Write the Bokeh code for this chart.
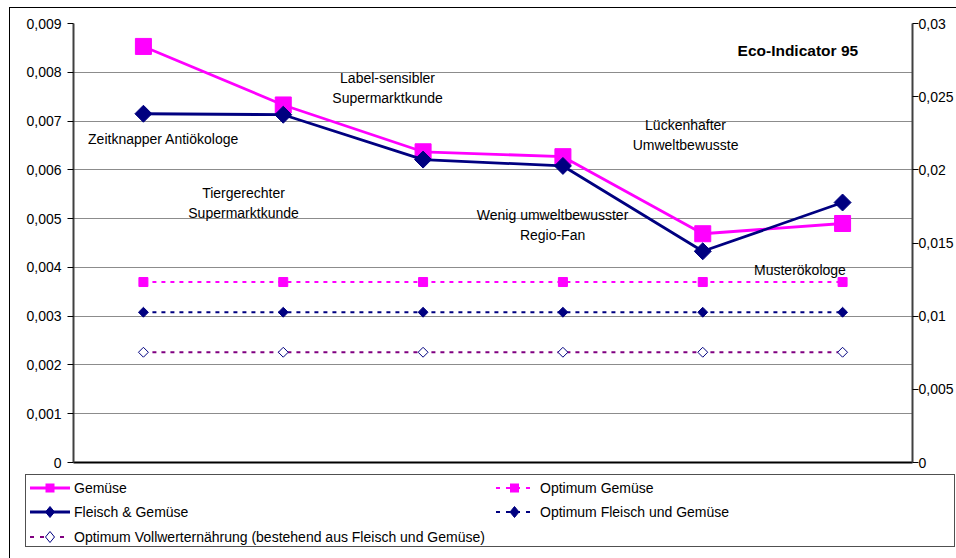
import math
from bokeh.plotting import figure
from bokeh.layouts import column
from bokeh.models import (Range1d, LinearAxis, FixedTicker, CustomJSTickFormatter,
                          ColumnDataSource, Div)
from bokeh.core.properties import value
from bokeh.embed import file_html
from bokeh.resources import INLINE

# ---- data ----
x_pos = [1, 2, 3, 4, 5, 6]
gemuese = [0.00853, 0.00733, 0.00637, 0.00627, 0.00469, 0.00490]
fleisch = [0.00715, 0.00713, 0.00621, 0.00608, 0.00433, 0.00533]
opt_gemuese = [0.00370, 0.00370, 0.00370, 0.00370, 0.00370, 0.00370]
opt_fleisch = [0.00308, 0.00308, 0.00308, 0.00308, 0.00308, 0.00308]
opt_vollwert = [0.00226, 0.00226, 0.00226, 0.00226, 0.00226, 0.00226]

left_ticks = [0, 0.001, 0.002, 0.003, 0.004, 0.005, 0.006, 0.007, 0.008, 0.009]
right_ticks = [0, 0.005, 0.01, 0.015, 0.02, 0.025, 0.03]

seg_labels = ["Zeitknapper Antiökologe", "Tiergerechter\nSupermarktkunde",
              "Label-sensibler\nSupermarktkunde", "Wenig umweltbewusster\nRegio-Fan",
              "Lückenhafter\nUmweltbewusste", "Musterökologe"]
seg_x = [1.144, 1.716, 2.746, 3.926, 4.877, 5.695]
seg_y = [0.00664, 0.00533, 0.00767, 0.00486, 0.00672, 0.00394]

title_text = "Eco-Indicator 95"

series_names = ["Gemüse", "Optimum Gemüse", "Fleisch & Gemüse", "Optimum Fleisch und Gemüse",
                "Optimum Vollwerternährung (bestehend aus Fleisch und Gemüse)"]

FONT = "Liberation Sans"
FS = "14px"
MAGENTA = "#FF00FF"
NAVY = "#000080"
PURPLE = "#800080"
ang = math.pi / 4

p = figure(width=946, height=464, output_backend="svg", toolbar_location=None,
           x_range=Range1d(0.5, 6.5), y_range=Range1d(0, 0.009),
           min_border_left=63, min_border_top=15, min_border_right=44,
           min_border_bottom=10, background_fill_color="white",
           border_fill_color="white", outline_line_color=None)
p.extra_y_ranges = {"right": Range1d(0, 0.03)}

fmt = CustomJSTickFormatter(code="""
let s = tick.toFixed(3);
s = s.replace(/0+$/, '').replace(/\\.$/, '');
return s.replace('.', ',');
""")

def style_axis(a, standoff):
    a.major_label_text_font = FONT
    a.major_label_text_font_size = FS
    a.major_label_text_color = "black"
    a.axis_line_color = "#404040"
    a.axis_line_width = 2
    a.major_tick_line_color = "black"
    a.major_tick_out = 6
    a.major_tick_in = 0
    a.minor_tick_line_color = None
    a.major_label_standoff = standoff

ya = p.yaxis[0]
ya.ticker = FixedTicker(ticks=left_ticks)
ya.formatter = fmt
style_axis(ya, 6)

ra = LinearAxis(y_range_name="right", ticker=FixedTicker(ticks=right_ticks), formatter=fmt)
style_axis(ra, 0)
p.add_layout(ra, "right")

xa = p.xaxis[0]
xa.ticker = FixedTicker(ticks=[])
xa.major_label_text_font_size = "0px"
xa.axis_line_color = "black"
xa.axis_line_width = 2
xa.major_tick_line_color = None
xa.minor_tick_line_color = None
xa.major_label_standoff = 0

p.xgrid.grid_line_color = None
p.ygrid.ticker = FixedTicker(ticks=left_ticks)
p.ygrid.grid_line_color = "#8c8c8c"
p.ygrid.grid_line_width = 1

p.line(x_pos, opt_gemuese, line_color=MAGENTA, line_width=2, line_dash="4 5")
p.scatter(x_pos, opt_gemuese, marker="square", size=9, fill_color=MAGENTA, line_color=MAGENTA)
p.line(x_pos, opt_fleisch, line_color=NAVY, line_width=2, line_dash="4 5")
p.scatter(x_pos, opt_fleisch, marker="square", angle=ang, size=7, fill_color=NAVY, line_color=NAVY)
p.line(x_pos, opt_vollwert, line_color=PURPLE, line_width=2, line_dash="4 5")
p.scatter(x_pos, opt_vollwert, marker="square", angle=ang, size=7, fill_color="white",
          line_color=NAVY, line_width=1)
p.line(x_pos, gemuese, line_color=MAGENTA, line_width=2.8)
p.scatter(x_pos, gemuese, marker="square", size=16, fill_color=MAGENTA, line_color=MAGENTA)
p.line(x_pos, fleisch, line_color=NAVY, line_width=2.8)
p.scatter(x_pos, fleisch, marker="square", angle=ang, size=12, fill_color=NAVY, line_color=NAVY)

src = ColumnDataSource(dict(x=seg_x, y=seg_y, text=seg_labels))
p.text(x="x", y="y", text="text", source=src, text_font=value(FONT), text_font_size=FS,
       text_align="center", text_baseline="middle", text_color="black", text_line_height=1.25)
p.text(x=[5.68], y=[0.00845], text=[title_text], text_font=value(FONT), text_font_size="15.5px",
       text_font_style="bold", text_align="center", text_baseline="middle", text_color="black")

# ---- legend (HTML, Excel style, two columns) ----
def swatch(w, color, width, dash, marker, mcolor, mfill):
    c = w / 2
    d = f' stroke-dasharray="{dash}"' if dash else ""
    if marker == "square":
        m = f'<rect x="{c-4}" y="3" width="8" height="8" fill="{mfill}" stroke="{mcolor}" stroke-width="1"/>'
    else:
        m = (f'<polygon points="{c},1.5 {c+4.5},7 {c},12.5 {c-4.5},7" fill="{mfill}" '
             f'stroke="{mcolor}" stroke-width="1"/>')
    return (f'<svg width="{w}" height="14" style="display:block">'
            f'<line x1="0" y1="7" x2="{w}" y2="7" stroke="{color}" stroke-width="{width}"{d}/>'
            f'{m}</svg>')

sw = [
    swatch(40, MAGENTA, 3, None, "square", MAGENTA, MAGENTA),
    swatch(37, MAGENTA, 2, "4 6", "square", MAGENTA, MAGENTA),
    swatch(40, NAVY, 3, None, "diamond", NAVY, NAVY),
    swatch(37, NAVY, 2, "4 6", "diamond", NAVY, NAVY),
    swatch(40, PURPLE, 2, "4 6", "diamond", NAVY, "white"),
]
pos = [(4, 5, 4), (470, 5, 7), (4, 29, 4), (470, 29, 7), (4, 54, 4)]
items = ""
for name, s, (lx, ty, gap) in zip(series_names, sw, pos):
    items += (f'<div style="position:absolute;left:{lx}px;top:{ty}px;height:16px;display:flex;'
              f'align-items:center;gap:{gap}px;white-space:nowrap">{s}<span>{name}</span></div>')

legend_html = (
    f'<div style="position:relative;width:946px;height:86px;font-family:\'{FONT}\';'
    f'font-size:14px;color:black;">'
    f'<div style="position:absolute;left:15px;top:2px;width:930px;height:73px;box-sizing:border-box;'
    f'border:1px solid #505050;background:white;">{items}</div></div>'
)
leg = Div(text=legend_html, width=946, height=86, margin=0)

layout = column(p, leg, spacing=0,
                styles={"margin-left": "9px", "margin-top": "7px",
                        "border-left": "1px solid black", "border-top": "1px solid black"})
open("out.html", "w").write(file_html(layout, INLINE))
